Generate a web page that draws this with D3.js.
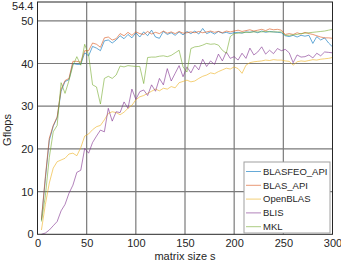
<!DOCTYPE html>
<html>
<head>
<meta charset="utf-8">
<script src="https://d3js.org/d3.v7.min.js"></script>
<style>
  body { margin: 0; background: #fff; }
  svg text { font-family: "Liberation Sans", Arial, Helvetica, sans-serif; fill: #262626; }
</style>
</head>
<body>
<svg id="chart" width="341" height="263"></svg>
<script>
// matrix sizes (4, 8, ..., 300)
const sizes = d3.range(4, 301, 4);

const blasfeoApi = [3.3, 13, 22, 25.3, 27.3, 33.5, 35.8, 36.2, 40, 39.8, 39.8, 42.5, 41.8, 44, 43.6, 43, 45.3, 45.5, 44.8, 45.5,
  46.5, 45.8, 46.8, 46, 47.2, 46.2, 47.4, 46.5, 47.8, 46.2, 45.9, 47.5, 46.8, 47.2, 46.6, 47.4, 46.7, 47.5, 47, 47.6,
  46.9, 48.2, 47, 47.4, 46.9, 47.5, 47.1, 47.3, 47, 47.2, 47.3, 47.1, 47.4, 47.3, 47.5, 47.2, 47.6, 47.3, 47.5, 47.4,
  47.3, 47.2, 46.5, 46.3, 46.6, 46.2, 46.6, 46.4, 46.6, 44.7, 46.3, 45.5, 46, 44.8, 43.9];

const blasApi = [3.5, 13.5, 22.5, 25.5, 27.5, 34, 36, 36.5, 40.5, 40.5, 40.3, 43, 43, 44.8, 44.5, 43.8, 46, 46.2, 45.5, 45.8,
  47, 46.5, 47.3, 46.6, 47.4, 47, 46.8, 47.5, 46.9, 47.3, 47, 47.6, 47.1, 47.4, 47, 47.5, 47.1, 47.2, 47.4, 47.2,
  47.5, 47.2, 47.4, 47.6, 47.3, 47.5, 47.2, 47.6, 47.4, 47.6, 47.8, 47.5, 47.7, 47.9, 47.6, 47.8, 48, 47.7, 48.1, 47.9,
  48, 47.8, 46.8, 47, 46.8, 47.2, 46.9, 47.3, 47, 46.8, 46.5, 46.2, 46, 46, 45.9];

const openBlas = [1, 7, 12, 15.5, 17, 17.4, 17.8, 18.8, 19, 18.4, 20.3, 23, 23.5, 24.5, 25.2, 25.5, 26.8, 28.3, 28.7, 28.5,
  28, 28.6, 29.5, 30.2, 31.5, 32.2, 32.5, 33, 33.5, 34, 33.6, 34.2, 34, 34.6, 34.3, 35.5, 35.8, 36.1, 35.7, 35.9,
  36.5, 37, 37.3, 37.8, 37.6, 38.1, 38.5, 38.9, 38.7, 39.2, 38.8, 37.7, 39.6, 40.2, 40.4, 40.5, 40.6, 40.8, 40.7, 40.9,
  40.8, 40.8, 40.6, 40.5, 39.6, 40.4, 40.6, 40.5, 40.7, 40.9, 40.8, 41, 41.1, 41.2, 41.4];

const blis = [0, 0.3, 1, 2, 3, 5.5, 7, 9.6, 11.5, 14.5, 15, 20.1, 19, 21.5, 23, 24.4, 24, 29.5, 26.5, 28.7,
  28.5, 31, 29.5, 34, 31.6, 33.4, 33.8, 32.5, 35, 33.5, 36.5, 35, 38.8, 35.9, 37.7, 39.5, 36.9, 39.2, 37.8, 39.6,
  38.5, 41, 39.3, 40.6, 39.8, 42.2, 40.6, 42.7, 41.2, 41.6, 40.8, 42.4, 41.2, 43.6, 42, 42.7, 43.9, 42.2, 43.1, 42.3,
  43.5, 43, 43.3, 42.5, 40.2, 42, 41.5, 41.6, 42, 41.3, 42.4, 41.8, 42.7, 42.6, 42.5];

const mkl = [3, 9, 18, 24, 25.5, 35.5, 33, 36, 39.5, 41.6, 39.6, 44.5, 42, 35, 34.5, 30.5, 36.5, 37, 36.5, 37.3,
  39.4, 39.2, 39.5, 39.4, 39.3, 39.3, 35.3, 41.4, 41.5, 41.5, 41.7, 41.8, 41.6, 41.9, 42.5, 43.1, 39.2, 38, 43.5, 43.9,
  44, 44.3, 44.7, 44.5, 44.6, 44.3, 43.1, 42.4, 46.3, 47, 47.1, 47.2, 47.3, 47.3, 47.4, 47.4, 47.4, 47.5, 47.4, 47.4,
  47.4, 47.4, 46.6, 46.6, 46.7, 46.8, 47, 47.1, 47.2, 47.3, 47.4, 47.5, 47.6, 47.8, 48];

const seriesNames = ["BLASFEO_API", "BLAS_API", "OpenBLAS", "BLIS", "MKL"];
const seriesColors = ["#0072bd", "#d95319", "#edb120", "#7e2f8e", "#77ac30"];
const seriesValues = [blasfeoApi, blasApi, openBlas, blis, mkl];

const xTicks = [0, 50, 100, 150, 200, 250, 300];
const yTicks = [0, 10, 20, 30, 40, 50, 54.4];

const svg = d3.select("#chart");

const x = d3.scaleLinear().domain([0, 300]).range([37.5, 332.5]);
const y = d3.scaleLinear().domain([0, 54.4]).range([234.3, 2]);

// grid
svg.append("g")
  .selectAll("line")
  .data(xTicks.slice(1, -1))
  .join("line")
  .attr("x1", d => x(d)).attr("x2", d => x(d))
  .attr("y1", y(54.4)).attr("y2", y(0))
  .attr("stroke", "#7a7a7a").attr("stroke-width", 1.2);

svg.append("g")
  .selectAll("line")
  .data(yTicks.slice(1, -1))
  .join("line")
  .attr("x1", x(0)).attr("x2", x(300))
  .attr("y1", d => y(d)).attr("y2", d => y(d))
  .attr("stroke", "#7a7a7a").attr("stroke-width", 1.2);

// lines
const line = d3.line()
  .x((d, i) => x(sizes[i]))
  .y(d => y(d));

seriesValues.forEach((vals, k) => {
  svg.append("path")
    .datum(vals)
    .attr("d", line)
    .attr("fill", "none")
    .attr("stroke", seriesColors[k])
    .attr("stroke-opacity", 0.6)
    .attr("stroke-width", 1);
});

// axes box
svg.append("rect")
  .attr("x", x(0)).attr("y", y(54.4))
  .attr("width", x(300) - x(0)).attr("height", y(0) - y(54.4))
  .attr("fill", "none").attr("stroke", "#262626").attr("stroke-width", 1);

const xAxis = d3.axisBottom(x).tickValues(xTicks).tickSize(0).tickPadding(5);
svg.append("g")
  .attr("transform", `translate(0,${y(0)})`)
  .call(xAxis)
  .call(g => g.select(".domain").remove())
  .selectAll("text")
  .attr("font-size", 11).attr("fill", "#262626");

const yAxis = d3.axisLeft(y).tickValues(yTicks).tickSize(0).tickPadding(4)
  .tickFormat(d => d === 54.4 ? "54.4" : d3.format("d")(d));
svg.append("g")
  .attr("transform", `translate(${x(0)},0)`)
  .call(yAxis)
  .call(g => g.select(".domain").remove())
  .selectAll("text")
  .attr("font-size", 11).attr("fill", "#262626")
  .filter(d => d === 54.4)
  .attr("dy", "0.68em");

// axis titles
svg.append("text")
  .attr("x", 185).attr("y", 260)
  .attr("text-anchor", "middle")
  .attr("font-size", 11)
  .text("matrix size s");

svg.append("text")
  .attr("transform", "translate(11,130) rotate(-90)")
  .attr("text-anchor", "middle")
  .attr("font-size", 11)
  .text("Gflops");

// legend
const legend = svg.append("g").attr("transform", "translate(244,162)");
legend.append("rect")
  .attr("width", 86).attr("height", 71)
  .attr("fill", "#fff").attr("stroke", "#a0a0a0").attr("stroke-width", 1);

seriesNames.forEach((name, k) => {
  const cy = 9.5 + k * 13.8;
  legend.append("line")
    .attr("x1", 2).attr("x2", 17)
    .attr("y1", cy).attr("y2", cy)
    .attr("stroke", seriesColors[k]).attr("stroke-opacity", 0.6);
  legend.append("text")
    .attr("x", 19).attr("y", cy)
    .attr("dy", "0.35em")
    .attr("font-size", 9.5)
    .text(name);
});
</script>
</body>
</html>
